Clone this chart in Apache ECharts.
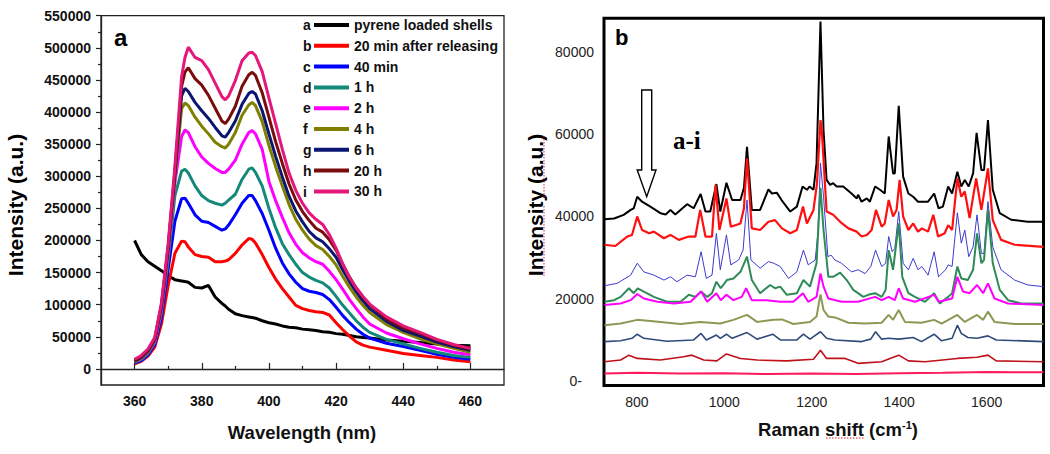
<!DOCTYPE html>
<html><head><meta charset="utf-8">
<script src="https://cdn.jsdelivr.net/npm/echarts@6/dist/echarts.min.js"></script>
<style>html,body{margin:0;padding:0;background:#fff}#c{width:1050px;height:454px}</style>
</head><body><div id="c"></div>
<script>
// ---------- Panel a: fluorescence ----------
const wavelength = [360,362,364,366,368,370,372,374,375,376,378,380,382,384,386,387,388,390,392,394,395,396,398,400,402,404,406,408,410,412,414,416,418,420,422,424,426,428,430,435,440,445,450,455,460];
const flNames = ['pyrene loaded shells','20 min after releasing','40 min','1 h','2 h','4 h','6 h','20 h','30 h'];
const flLetters = ['a','b','c','d','e','f','g','h','i'];
const flA = [200000,178000,167000,160000,153000,145000,139000,137000,136000,135000,127000,126000,130000,112000,102000,98000,93000,86000,83000,81000,80000,79000,75000,72000,70000,67000,65000,64000,62000,61000,60000,58000,57000,55000,54000,52000,50000,49000,48000,45000,43000,41000,39000,37000,36000];
const flB = [8000,12000,20000,34000,70000,130000,180000,199000,198000,190000,178000,175000,174000,167000,167000,168000,170000,180000,193000,203000,202000,196000,178000,158000,140000,125000,112000,99000,94000,91000,89000,88000,84000,72000,61000,51000,42000,37000,34000,29000,24000,21000,18000,14000,11000];
const flC = [9000,13000,22000,38000,80000,155000,230000,265000,266000,258000,240000,230000,228000,222000,216000,218000,224000,240000,258000,270000,270000,262000,242000,216000,188000,165000,148000,135000,125000,121000,119000,116000,108000,96000,83000,72000,62000,54000,48000,40000,35000,29000,23000,18000,15000];
const flD = [10000,15000,24000,41000,88000,170000,270000,308000,311000,305000,285000,270000,262000,258000,255000,258000,263000,272000,295000,311000,313000,306000,285000,250000,220000,195000,178000,163000,150000,143000,138000,134000,126000,113000,99000,87000,75000,65000,57000,46000,39000,32000,26000,21000,18000];
const flE = [11000,16000,26000,43000,92000,180000,290000,362000,372000,368000,346000,330000,320000,312000,306000,306000,311000,325000,350000,368000,371000,366000,342000,292000,262000,236000,212000,194000,181000,173000,167000,163000,152000,139000,124000,108000,94000,81000,70000,56000,47000,39000,32000,26000,22000];
const flF = [11000,17000,27000,45000,96000,185000,298000,405000,414000,410000,392000,378000,366000,353000,346000,344000,350000,368000,395000,411000,415000,410000,385000,348000,315000,285000,256000,233000,216000,202000,192000,186000,175000,162000,144000,127000,112000,99000,88000,69000,57000,47000,39000,32000,26000];
const flG = [12000,18000,28000,46000,98000,188000,303000,425000,437000,432000,415000,402000,390000,376000,363000,361000,368000,386000,412000,429000,432000,428000,402000,366000,331000,299000,269000,246000,229000,214000,204000,198000,187000,174000,154000,136000,120000,106000,94000,74000,60000,51000,42000,35000,29000];
const flH = [13000,19000,29000,47000,100000,190000,308000,440000,462000,469000,452000,442000,426000,406000,386000,382000,389000,409000,440000,458000,462000,457000,430000,392000,354000,320000,288000,263000,245000,231000,219000,213000,201000,185000,163000,143000,126000,112000,100000,78000,64000,55000,45000,37000,31000];
const flI = [15000,21000,31000,49000,103000,195000,315000,455000,485000,501000,485000,480000,466000,445000,424000,419000,425000,449000,480000,492000,493000,488000,463000,422000,382000,342000,305000,278000,258000,243000,233000,225000,209000,188000,163000,142000,126000,113000,101000,81000,67000,57000,46000,38000,32000];
const flSeries = [flA,flB,flC,flD,flE,flF,flG,flH,flI];
const flColors = ['#000000','#ff0000','#0000ff','#14897a','#ff00ff','#808000','#0b1672','#7a0c0c','#e4177b'];
const flYTicks = [0,50000,100000,150000,200000,250000,300000,350000,400000,450000,500000,550000];
const flYMinor = [25000,75000,125000,175000,225000,275000,325000,375000,425000,475000,525000];
const flXTicks = [360,380,400,420,440,460];
const flXMinor = [370,390,410,430,450];

// ---------- Panel b: Raman ----------
const ramA = [[726,39300],[748,39500],[770,40400],[786,41600],[793,42000],[801,44800],[812,43600],[831,42400],[854,40800],[866,40500],[877,41600],[888,40500],[915,43000],[930,42000],[946,45500],[957,41200],[968,41200],[982,47900],[991,41200],[1005,48200],[1018,44000],[1037,44000],[1045,47000],[1052,57000],[1063,41600],[1082,41600],[1101,46600],[1109,45600],[1120,45800],[1131,44000],[1151,41200],[1166,42400],[1179,47300],[1189,46500],[1195,47300],[1204,46500],[1211,53000],[1220,87500],[1227,61000],[1234,48900],[1242,47700],[1249,48100],[1257,47300],[1272,47300],[1291,45600],[1303,44400],[1306,45300],[1314,43600],[1326,44400],[1333,43600],[1345,47300],[1356,46500],[1367,45600],[1376,59500],[1386,50500],[1390,50500],[1399,67000],[1409,49700],[1421,45600],[1432,44800],[1443,43600],[1466,43600],[1480,45600],[1490,42000],[1500,42400],[1512,47300],[1521,45600],[1533,50900],[1542,47300],[1550,48900],[1559,47300],[1569,50500],[1577,60400],[1588,51300],[1594,51300],[1603,63500],[1614,46500],[1630,40800],[1656,39200],[1694,38700],[1730,38700]];
const ramB = [[726,33100],[751,32800],[778,35100],[789,35500],[801,40000],[812,36700],[828,35900],[839,36300],[862,34700],[877,35500],[896,34300],[919,35100],[934,35100],[945,41600],[957,35100],[972,35100],[980,47700],[989,36700],[1005,44400],[1015,37500],[1037,38300],[1045,42000],[1052,54200],[1063,37100],[1082,36700],[1101,38700],[1116,39100],[1132,37100],[1151,35900],[1166,36700],[1180,42400],[1189,38300],[1204,41600],[1212,48000],[1220,63500],[1223,61000],[1234,41200],[1249,40400],[1265,38700],[1284,37100],[1303,36300],[1314,35100],[1326,35500],[1337,36700],[1347,41600],[1360,37500],[1367,38300],[1376,44000],[1386,40000],[1394,41600],[1401,48900],[1409,40000],[1421,36700],[1432,38300],[1443,36300],[1452,37100],[1466,36300],[1478,40400],[1489,35100],[1504,35900],[1512,37900],[1521,36700],[1533,49300],[1542,44800],[1550,46100],[1561,39600],[1576,49300],[1588,41600],[1603,51700],[1614,39100],[1633,34300],[1664,33100],[1730,32600]];
const ramC = [[726,23100],[755,23700],[786,25700],[801,28600],[816,26500],[839,25700],[862,24500],[877,25300],[892,24100],[915,25700],[934,25300],[947,31400],[959,24900],[972,25700],[982,35900],[991,27000],[1005,35500],[1015,28200],[1033,29400],[1043,31800],[1052,44000],[1061,29400],[1082,27400],[1101,29000],[1113,28600],[1128,27800],[1147,24900],[1166,26500],[1181,31800],[1192,28200],[1208,29400],[1214,36000],[1220,53000],[1227,44800],[1237,30200],[1244,30600],[1253,29400],[1268,28600],[1291,26500],[1306,27000],[1322,26100],[1335,27800],[1346,31800],[1360,27800],[1369,28600],[1376,35100],[1384,31400],[1390,32200],[1399,41200],[1409,28600],[1421,27000],[1432,29800],[1443,27000],[1452,27800],[1466,25700],[1480,31400],[1490,25300],[1506,27000],[1512,28200],[1521,27800],[1533,40900],[1542,33500],[1550,36700],[1559,30200],[1569,32600],[1578,40400],[1588,31000],[1594,31000],[1603,43600],[1614,32600],[1633,27000],[1664,24500],[1694,23300],[1730,22900]];
const ramD = [[726,19200],[748,19600],[763,20400],[782,22500],[793,21300],[802,22500],[816,21700],[839,20400],[869,19200],[900,19200],[919,20900],[934,20400],[947,21700],[961,20400],[972,21300],[982,24100],[992,22500],[1006,24500],[1021,24900],[1037,26500],[1052,30200],[1063,24500],[1082,21300],[1105,23300],[1116,22500],[1128,22900],[1143,20900],[1166,21300],[1181,24500],[1196,22900],[1211,28600],[1220,47000],[1227,36700],[1238,25300],[1249,25300],[1265,26300],[1280,24500],[1295,22100],[1306,21300],[1318,20400],[1329,20900],[1345,21300],[1360,20400],[1369,22100],[1376,31800],[1386,27000],[1399,38300],[1407,25300],[1421,21300],[1436,20400],[1459,19200],[1480,21300],[1493,18800],[1512,20400],[1521,21300],[1533,27800],[1542,24900],[1557,24500],[1569,27000],[1578,35900],[1588,28600],[1594,29400],[1603,41600],[1614,28600],[1630,22100],[1649,19600],[1679,18800],[1730,18800]];
const ramE = [[726,18400],[763,18800],[786,19600],[801,21100],[816,20000],[847,19200],[885,18800],[923,19200],[947,21700],[961,19200],[982,21300],[992,19600],[1005,20900],[1021,19600],[1040,20400],[1050,22500],[1063,19600],[1097,19600],[1128,19200],[1158,19200],[1180,21300],[1192,19200],[1211,20400],[1220,26100],[1227,22900],[1238,20000],[1268,19200],[1306,19200],[1345,20400],[1360,19600],[1376,20400],[1390,19600],[1399,22500],[1409,20000],[1436,19200],[1480,20900],[1490,19200],[1521,20000],[1533,25300],[1546,21700],[1561,21300],[1578,23300],[1592,21300],[1603,23700],[1618,20000],[1649,18800],[1730,18400]];
const ramF = [[726,13500],[763,13900],[801,14800],[854,14300],[900,13800],[945,14300],[991,13900],[1021,14800],[1052,16000],[1075,14300],[1113,14800],[1132,14900],[1158,13800],[1196,14300],[1211,15600],[1220,21000],[1227,17200],[1238,15600],[1253,15400],[1284,14100],[1322,13900],[1360,14100],[1376,16000],[1386,14800],[1399,17200],[1413,14300],[1451,14100],[1480,14800],[1497,13900],[1533,16000],[1550,14300],[1578,16000],[1592,14800],[1603,16800],[1618,14300],[1664,13800],[1730,13800]];
const ramG = [[726,9500],[763,9700],[789,10300],[801,11300],[816,10300],[869,9600],[930,9900],[947,11500],[959,9900],[982,11100],[991,10300],[1005,11300],[1018,10300],[1052,11700],[1075,10100],[1111,11300],[1128,9900],[1166,9900],[1181,11300],[1196,10100],[1220,11900],[1234,10300],[1253,9900],[1314,9500],[1335,10100],[1346,11900],[1360,10100],[1376,10300],[1399,10100],[1432,10500],[1451,9500],[1480,11300],[1497,9700],[1521,10300],[1533,13500],[1542,11500],[1557,10500],[1578,10300],[1603,10900],[1622,9900],[1730,9500]];
const ramH = [[726,4600],[763,5000],[782,6200],[801,5400],[854,5000],[907,5800],[926,6200],[953,5000],[983,4800],[1005,6500],[1037,5400],[1075,5000],[1143,4800],[1204,5200],[1220,7400],[1234,5400],[1276,5400],[1306,4200],[1360,4600],[1379,5400],[1399,6200],[1421,4800],[1459,4600],[1533,5400],[1578,5700],[1603,6200],[1622,4800],[1730,4600]];
const ramI = [[726,1700],[800,1900],[900,1700],[1000,1800],[1100,1600],[1200,1700],[1300,1600],[1400,1800],[1500,1900],[1600,2100],[1730,2000]];
const ramSeries = [ramA,ramB,ramC,ramD,ramE,ramF,ramG,ramH,ramI];
const ramColors = ['#000000','#ff1010','#3b3bd0','#2e8b57','#ff00ff','#8a9a55','#2f4b7a','#c0101a','#ff1a5c'];
const ramWidths = [2,2.2,1,2,2,2,1.6,1.6,2];
const ramYTicks = [0,20000,40000,60000,80000];
const ramXTicks = [800,1000,1200,1400,1600];

const FF = '"Liberation Sans", Arial, sans-serif';
const plain = v => String(v);

const series = [];
flSeries.forEach((vals, k) => {
  series.push({
    name: flNames[k], type: 'line', xAxisIndex: 0, yAxisIndex: 0,
    data: wavelength.map((w, j) => [w, vals[j]]),
    showSymbol: false, symbol: 'none', color: flColors[k],
    lineStyle: { width: 3, color: flColors[k] }, z: 2 + k
  });
});
ramSeries.forEach((pts, k) => {
  series.push({
    name: 'raman-' + flLetters[k], type: 'line', xAxisIndex: 2, yAxisIndex: 2,
    data: pts, showSymbol: false, symbol: 'none', color: ramColors[k],
    lineStyle: { width: ramWidths[k], color: ramColors[k] }, z: 2 + k
  });
});

const boldTick = { fontFamily: FF, fontWeight: 'bold', fontSize: 14, color: '#111', formatter: plain };

const option = {
  animation: false,
  backgroundColor: '#fff',
  grid: [
    { left: 101, top: 15.7, width: 403, height: 369.3, show: true, borderColor: '#222', borderWidth: 1.3 },
    { left: 604, top: 18.3, width: 439.5, height: 367.2, show: true, borderColor: '#000', borderWidth: 3 }
  ],
  xAxis: [
    { type: 'value', gridIndex: 0, min: 350, max: 470, position: 'bottom',
      axisLine: { show: true, lineStyle: { color: '#222', width: 1.3 } },
      axisTick: { show: true, inside: true, length: 6, customValues: flXTicks, lineStyle: { color: '#222', width: 1.2 } },
      axisLabel: { customValues: flXTicks, margin: 9, ...boldTick },
      splitLine: { show: false } },
    { type: 'value', gridIndex: 0, min: 350, max: 470, position: 'bottom',
      axisLine: { show: false },
      axisTick: { show: true, inside: true, length: 3, customValues: flXMinor, lineStyle: { color: '#222', width: 1.2 } },
      axisLabel: { show: false }, splitLine: { show: false } },
    { type: 'value', gridIndex: 1, min: 725, max: 1730, position: 'bottom',
      axisLine: { show: false }, axisTick: { show: false },
      axisLabel: { customValues: ramXTicks, margin: 9, fontFamily: FF, fontSize: 14, color: '#222', formatter: plain },
      splitLine: { show: false } }
  ],
  yAxis: [
    { type: 'value', gridIndex: 0, min: -25000, max: 550000, position: 'left',
      axisLine: { show: true, lineStyle: { color: '#222', width: 1.3 } },
      axisTick: { show: true, inside: false, length: 5, customValues: flYTicks, lineStyle: { color: '#222', width: 1.2 } },
      axisLabel: { customValues: flYTicks, margin: 10, ...boldTick },
      splitLine: { show: false } },
    { type: 'value', gridIndex: 0, min: -25000, max: 550000, position: 'left',
      axisLine: { show: false },
      axisTick: { show: true, inside: false, length: 3, customValues: flYMinor, lineStyle: { color: '#222', width: 1.2 } },
      axisLabel: { show: false }, splitLine: { show: false } },
    { type: 'value', gridIndex: 1, min: -1200, max: 88300, position: 'left',
      axisLine: { show: false }, axisTick: { show: false },
      axisLabel: { customValues: ramYTicks, margin: 10, fontFamily: FF, fontSize: 14, color: '#222',
        formatter: v => v === 0 ? '{z|0-}' : String(v),
        rich: { z: { fontFamily: FF, fontSize: 14, color: '#222', padding: [0, 12, 0, 0] } } },
      splitLine: { show: false } }
  ],
  legend: {
    data: flNames, orient: 'vertical', left: 314, top: 18, padding: 0,
    itemWidth: 35, itemHeight: 4, itemGap: 6.8, icon: 'rect', selectedMode: false,
    textStyle: { fontFamily: FF, fontWeight: 'bold', fontSize: 14, lineHeight: 14, color: '#111' }
  },
  graphic: [
    { type: 'text', x: 303, y: 14.6, z: 100, style: { text: flLetters.join('\n'), fontFamily: FF, fontWeight: 'bold', fontSize: 14, lineHeight: 20.84, fill: '#111', align: 'left', verticalAlign: 'top' } },
    { type: 'text', x: 114, y: 37, z: 100, style: { text: 'a', fontFamily: FF, fontWeight: 'bold', fontSize: 24, fill: '#000', align: 'left', verticalAlign: 'middle' } },
    { type: 'text', x: 15, y: 205, rotation: Math.PI / 2, z: 100, style: { text: 'Intensity (a.u.)', fontFamily: FF, fontWeight: 'bold', fontSize: 21, fill: '#000', align: 'center', verticalAlign: 'middle' } },
    { type: 'text', x: 302, y: 432, z: 100, style: { text: 'Wavelength (nm)', fontFamily: FF, fontWeight: 'bold', fontSize: 18.5, fill: '#111', align: 'center', verticalAlign: 'middle' } },
    { type: 'text', x: 615, y: 37.5, z: 100, style: { text: 'b', fontFamily: FF, fontWeight: 'bold', fontSize: 22, fill: '#000', align: 'left', verticalAlign: 'middle' } },
    { type: 'text', x: 535, y: 205, rotation: Math.PI / 2, z: 100, style: { text: 'Intensity (a.u.)', fontFamily: FF, fontWeight: 'bold', fontSize: 21, fill: '#000', align: 'center', verticalAlign: 'middle' } },
    { type: 'polyline', z: 100, shape: { points: [[544, 136], [544, 198]] }, style: { stroke: '#d22', lineWidth: 1, lineDash: [1.5, 1.5] } },
    { type: 'polyline', z: 100, shape: { points: [[544, 206], [544, 276]] }, style: { stroke: '#d22', lineWidth: 1, lineDash: [1.5, 1.5] } },
    { type: 'text', x: 838, y: 429, z: 100, style: { text: '{a|Raman shift (cm}{s|-1}{a|)}', align: 'center', verticalAlign: 'middle',
        rich: { a: { fontFamily: FF, fontWeight: 'bold', fontSize: 18.5, fill: '#111' }, s: { fontFamily: FF, fontWeight: 'bold', fontSize: 11, fill: '#111', padding: [0, 0, 9, 0] } } } },
    { type: 'polyline', z: 100, shape: { points: [[826, 438], [865, 438]] }, style: { stroke: '#d22', lineWidth: 1, lineDash: [1.5, 1.5] } },
    { type: 'text', x: 673, y: 140, z: 100, style: { text: 'a-i', fontFamily: '"Liberation Serif", "Times New Roman", serif', fontWeight: 'bold', fontSize: 25, fill: '#000', align: 'left', verticalAlign: 'middle' } },
    { type: 'polygon', z: 100, shape: { points: [[641.7,90],[651.7,90],[651.7,170],[656,170],[646.7,196.7],[637.2,170],[641.7,170]] }, style: { fill: '#fff', stroke: '#000', lineWidth: 1.4 } }
  ],
  series
};

const chart = echarts.init(document.getElementById('c'), null, { renderer: 'svg', width: 1050, height: 454 });
chart.setOption(option);
</script>
</body></html>
